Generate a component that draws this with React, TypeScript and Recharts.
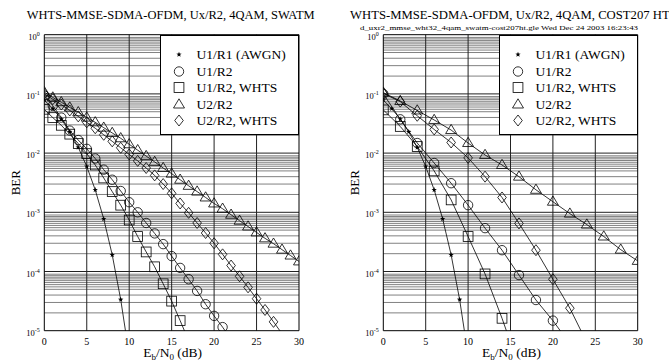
import React from 'react';
import { LineChart, Line, XAxis, YAxis, CartesianGrid, Legend } from 'recharts';

const FONT = '"Liberation Serif", "Times New Roman", Times, serif';

// ---------------- data ----------------
// Left panel: SWATM channel, 1 dB steps
const snrSwatm = [0, 1, 2, 3, 4, 5, 6, 7, 8, 9, 10, 11, 12, 13, 14, 15, 16, 17, 18, 19, 20, 21, 22, 23, 24, 25, 26, 27, 28, 29, 30];
const swatmAwgn = [7.86e-2, 5.63e-2, 3.75e-2, 2.29e-2, 1.25e-2, 5.95e-3, 2.39e-3, 7.73e-4, 1.91e-4, 3.36e-5, 3.87e-6];
const swatmU1R2 = [0.0933, 0.0631, 0.0398, 0.024, 0.0166, 0.0118, 8.1e-3, 5.25e-3, 3.55e-3, 2.29e-3, 1.48e-3, 1.0e-3, 6.6e-4, 4.4e-4, 2.9e-4, 1.82e-4, 1.15e-4, 7.4e-5, 4.7e-5, 2.8e-5, 1.78e-5, 1.15e-5, 7.1e-6];
const swatmU1R2Whts = [0.055, 0.0398, 0.0295, 0.0209, 0.0145, 9.8e-3, 6.3e-3, 3.8e-3, 2.24e-3, 1.32e-3, 7.4e-4, 3.9e-4, 2.14e-4, 1.2e-4, 6.2e-5, 3.16e-5, 1.48e-5, 6.8e-6];
const swatmU2R2 = [0.107, 0.0871, 0.0724, 0.0589, 0.049, 0.0398, 0.0331, 0.0269, 0.0219, 0.0178, 0.0141, 0.0112, 8.9e-3, 7.1e-3, 5.6e-3, 4.5e-3, 3.55e-3, 2.8e-3, 2.24e-3, 1.78e-3, 1.41e-3, 1.15e-3, 9.1e-4, 7.2e-4, 5.75e-4, 4.57e-4, 3.63e-4, 2.95e-4, 2.34e-4, 1.86e-4, 1.48e-4];
const swatmU2R2Whts = [0.1, 0.0813, 0.0661, 0.0525, 0.0417, 0.0331, 0.0263, 0.0204, 0.0158, 0.0123, 9.5e-3, 7.4e-3, 5.6e-3, 4.2e-3, 3.0e-3, 2.09e-3, 1.41e-3, 9.8e-4, 6.6e-4, 4.47e-4, 3.0e-4, 1.95e-4, 1.26e-4, 8.3e-5, 5.4e-5, 3.47e-5, 2.24e-5, 1.41e-5, 8.9e-6];

// Right panel: COST207 HT channel
const snrHtFine = [0, 1, 2, 3, 4, 5, 6, 7, 8, 9, 10];
const snrHtCoarse = [0, 2, 4, 6, 8, 10, 12, 14, 16, 18, 20, 22, 24, 26, 28, 30];
const htAwgn = [7.86e-2, 5.63e-2, 3.75e-2, 2.29e-2, 1.25e-2, 5.95e-3, 2.39e-3, 7.73e-4, 1.91e-4, 3.36e-5, 3.87e-6];
const htU1R2 = [0.1, 0.0372, 0.0148, 6.8e-3, 3.1e-3, 1.32e-3, 5.4e-4, 2.29e-4, 8.7e-5, 3.3e-5, 1.48e-5, 6.0e-6];
const htU1R2Whts = [0.0537, 0.0282, 0.0129, 5.0e-3, 1.62e-3, 3.9e-4, 9.1e-5, 1.62e-5, 2.5e-6];
const htU2R2 = [0.105, 0.0759, 0.0525, 0.0363, 0.0245, 0.0148, 9.3e-3, 6.3e-3, 4.0e-3, 2.4e-3, 1.51e-3, 9.5e-4, 6.2e-4, 3.9e-4, 2.34e-4, 1.51e-4];
const htU2R2Whts = [0.102, 0.0741, 0.0427, 0.0251, 0.0151, 8.3e-3, 4.0e-3, 1.78e-3, 6.5e-4, 2.29e-4, 7.4e-5, 2.4e-5, 6.3e-6];

const legendLabels = ['U1/R1 (AWGN)', 'U1/R2', 'U1/R2, WHTS', 'U2/R2', 'U2/R2, WHTS'];
const markerKinds = ['star', 'circle', 'square', 'triangle', 'diamond'];

const titleLeft = 'WHTS-MMSE-SDMA-OFDM, Ux/R2, 4QAM, SWATM';
const titleRight = 'WHTS-MMSE-SDMA-OFDM, Ux/R2, 4QAM, COST207 HT';
const stampRight = 'd_uxr2_mmse_wht32_4qam_swatm-cost207ht.gle   Wed Dec 24 2003  16:23:43';

const xTicks = [0, 5, 10, 15, 20, 25, 30];
const yTicks = [1, 1e-1, 1e-2, 1e-3, 1e-4, 1e-5];
const minorMultipliers = [2, 3, 4, 5, 5.5, 6, 6.5, 7, 7.5, 8, 8.5, 9];
const decadeExps = [-1, -2, -3, -4, -5];
const minorGrid = decadeExps.flatMap((e) => minorMultipliers.map((m) => m * Math.pow(10, e)));
const decadeGrid = [1e-1, 1e-2, 1e-3, 1e-4];
const xGrid = [5, 10, 15, 20, 25];

type Series = { name: string; kind: string; snr: number[]; ber: number[] };

const leftSeries: Series[] = [
  { name: legendLabels[0], kind: markerKinds[0], snr: snrSwatm, ber: swatmAwgn },
  { name: legendLabels[1], kind: markerKinds[1], snr: snrSwatm, ber: swatmU1R2 },
  { name: legendLabels[2], kind: markerKinds[2], snr: snrSwatm, ber: swatmU1R2Whts },
  { name: legendLabels[3], kind: markerKinds[3], snr: snrSwatm, ber: swatmU2R2 },
  { name: legendLabels[4], kind: markerKinds[4], snr: snrSwatm, ber: swatmU2R2Whts },
];
const rightSeries: Series[] = [
  { name: legendLabels[0], kind: markerKinds[0], snr: snrHtFine, ber: htAwgn },
  { name: legendLabels[1], kind: markerKinds[1], snr: snrHtCoarse, ber: htU1R2 },
  { name: legendLabels[2], kind: markerKinds[2], snr: snrHtCoarse, ber: htU1R2Whts },
  { name: legendLabels[3], kind: markerKinds[3], snr: snrHtCoarse, ber: htU2R2 },
  { name: legendLabels[4], kind: markerKinds[4], snr: snrHtCoarse, ber: htU2R2Whts },
];

const toPoints = (snr: number[], ber: number[]) => ber.map((v, i) => ({ x: snr[i], y: v }));

// ---------------- markers ----------------
function Marker({ kind, cx, cy }: { kind: string; cx: number; cy: number }) {
  const common = { fill: 'none', stroke: '#000', strokeWidth: 0.8 };
  switch (kind) {
    case 'circle':
      return <circle cx={cx} cy={cy} r={4.7} {...common} />;
    case 'square':
      return <rect x={cx - 4.9} y={cy - 4.9} width={9.8} height={9.8} {...common} />;
    case 'triangle':
      return <polygon points={`${cx},${cy - 5.7} ${cx + 5.5},${cy + 3.5} ${cx - 5.5},${cy + 3.5}`} {...common} />;
    case 'diamond':
      return <polygon points={`${cx},${cy - 5.5} ${cx + 4.3},${cy} ${cx},${cy + 5.5} ${cx - 4.3},${cy}`} {...common} />;
    default: {
      const pts: string[] = [];
      for (let i = 0; i < 10; i++) {
        const r = i % 2 === 0 ? 2.8 : 1.15;
        const a = -Math.PI / 2 + (i * Math.PI) / 5;
        pts.push(`${cx + r * Math.cos(a)},${cy + r * Math.sin(a)}`);
      }
      return <polygon points={pts.join(' ')} fill="#000" stroke="none" />;
    }
  }
}

const renderDot = (kind: string) => (p: any) => {
  const key = `d-${kind}-${p.index}`;
  if (p.cx == null || p.cy == null || !(p.payload && p.payload.y >= 1e-5)) return <g key={key} />;
  return (
    <g key={key}>
      <Marker kind={kind} cx={p.cx} cy={p.cy} />
    </g>
  );
};

// ---------------- ticks & labels ----------------
const XTick = (props: any) => {
  const { x, y, payload } = props;
  return (
    <text x={x} y={y + 14} textAnchor="middle" fontSize={10} fontFamily={FONT} fill="#000">
      {payload.value}
    </text>
  );
};

const YTick = (props: any) => {
  const { x, y, payload } = props;
  const exp = Math.round(Math.log10(payload.value));
  return (
    <text x={x - 4.5} y={y + 5} textAnchor="end" fontFamily={FONT} fill="#000">
      <tspan fontSize={8.5}>10</tspan>
      <tspan fontSize={6} dy={-4}>{exp === 0 ? '0' : `-${-exp}`}</tspan>
    </text>
  );
};

const xLabel = (props: any) => {
  const vb = props.viewBox || {};
  const cx = vb.x + vb.width / 2 + 1;
  const y = vb.y + 26.3;
  return (
    <text x={cx} y={y} textAnchor="middle" fontSize={13.5} fontFamily={FONT} fill="#000">
      E<tspan fontSize={9} dy={3}>b</tspan>
      <tspan dy={-3}>/N</tspan>
      <tspan fontSize={9} dy={3}>0</tspan>
      <tspan dy={-3}> (dB)</tspan>
    </text>
  );
};

const yLabel = (props: any) => {
  const vb = props.viewBox || {};
  const bx = vb.x + vb.width - 28.5 + 4.4;
  const cy = vb.y + vb.height / 2;
  return (
    <text transform={`translate(${bx},${cy}) rotate(-90)`} textAnchor="middle" fontSize={13} fontFamily={FONT} fill="#000">
      BER
    </text>
  );
};

// ---------------- legend ----------------
const LegendBox = ({ series }: { series: Series[] }) => (
  <div
    style={{
      position: 'relative',
      width: 139,
      height: 100.5,
      boxSizing: 'border-box',
      border: '1px solid #000',
      background: '#fff',
      fontFamily: FONT,
    }}
  >
    {series.map((s, i) => (
      <div key={s.name} style={{ position: 'absolute', left: 0, top: 10.5 + i * 16.6, height: 17, width: 137 }}>
        <svg width={16} height={17} style={{ position: 'absolute', left: 9.5, top: 0 }}>
          <Marker kind={s.kind} cx={8} cy={8.5} />
        </svg>
        <span
          style={{
            position: 'absolute',
            left: 35.5,
            top: 0,
            lineHeight: '17px',
            fontSize: 13.5,
            color: '#000',
            whiteSpace: 'nowrap',
          }}
        >
          {s.name}
        </span>
      </div>
    ))}
  </div>
);

// ---------------- panel ----------------
function Panel({ series, width, marginLeft, marginRight, legendLeft }: { series: Series[]; width: number; marginLeft: number; marginRight: number; legendLeft: number }) {
  return (
    <LineChart width={width} height={362} margin={{ top: 34.7, right: marginRight, bottom: 11.3, left: marginLeft }}>
      <CartesianGrid horizontalValues={minorGrid} vertical={false} stroke="#555" strokeWidth={0.75} />
      <CartesianGrid horizontalValues={decadeGrid} verticalValues={xGrid} stroke="#222" strokeWidth={1} />
      <CartesianGrid horizontalValues={[1, 1e-5]} verticalValues={[0, 30]} stroke="#000" strokeWidth={1} />
      <XAxis
        dataKey="x"
        type="number"
        domain={[0, 30]}
        allowDataOverflow
        ticks={xTicks}
        interval={0}
        tickLine={false}
        axisLine={false}
        tickSize={0}
        tickMargin={0}
        height={20}
        tick={<XTick />}
        label={xLabel}
      />
      <YAxis
        type="number"
        scale="log"
        domain={[1e-5, 1]}
        allowDataOverflow
        ticks={yTicks}
        interval={0}
        tickLine={false}
        axisLine={false}
        tickSize={0}
        tickMargin={0}
        width={30}
        tick={<YTick />}
        label={yLabel}
      />
      {series.map((s) => (
        <Line
          key={s.name}
          name={s.name}
          data={toPoints(s.snr, s.ber)}
          dataKey="y"
          type="linear"
          stroke="#000"
          strokeWidth={0.8}
          dot={renderDot(s.kind)}
          activeDot={false}
          isAnimationActive={false}
        />
      ))}
      <Legend
        layout="vertical"
        align="center"
        verticalAlign="middle"
        wrapperStyle={{ left: legendLeft, top: 34.5, width: 139, height: 100.5 }}
        content={() => <LegendBox series={series} />}
      />
    </LineChart>
  );
}

export default function App() {
  return (
    <div style={{ position: 'absolute', left: 0, top: 0, width: 669, height: 362, background: '#fff', overflow: 'hidden' }}>
      <div style={{ position: 'absolute', left: 0, top: 0 }}>
        <Panel series={leftSeries} width={335} marginLeft={14.3} marginRight={36} legendLeft={160} />
      </div>
      <div style={{ position: 'absolute', left: 335, top: 0 }}>
        <Panel series={rightSeries} width={334} marginLeft={18.3} marginRight={31.3} legendLeft={164} />
      </div>
      <svg width={669} height={362} style={{ position: 'absolute', left: 0, top: 0, pointerEvents: 'none' }}>
        <text x={26.7} y={19} fontSize={12.4} fontFamily={FONT} fill="#000" textLength={288} lengthAdjust="spacingAndGlyphs">
          {titleLeft}
        </text>
        <text x={350} y={19} fontSize={12.7} fontFamily={FONT} fill="#000">
          {titleRight}
        </text>
        <text x={360} y={30} fontSize={6} fontFamily={FONT} fill="#000" textLength={278} lengthAdjust="spacingAndGlyphs">
          {stampRight}
        </text>
      </svg>
    </div>
  );
}
